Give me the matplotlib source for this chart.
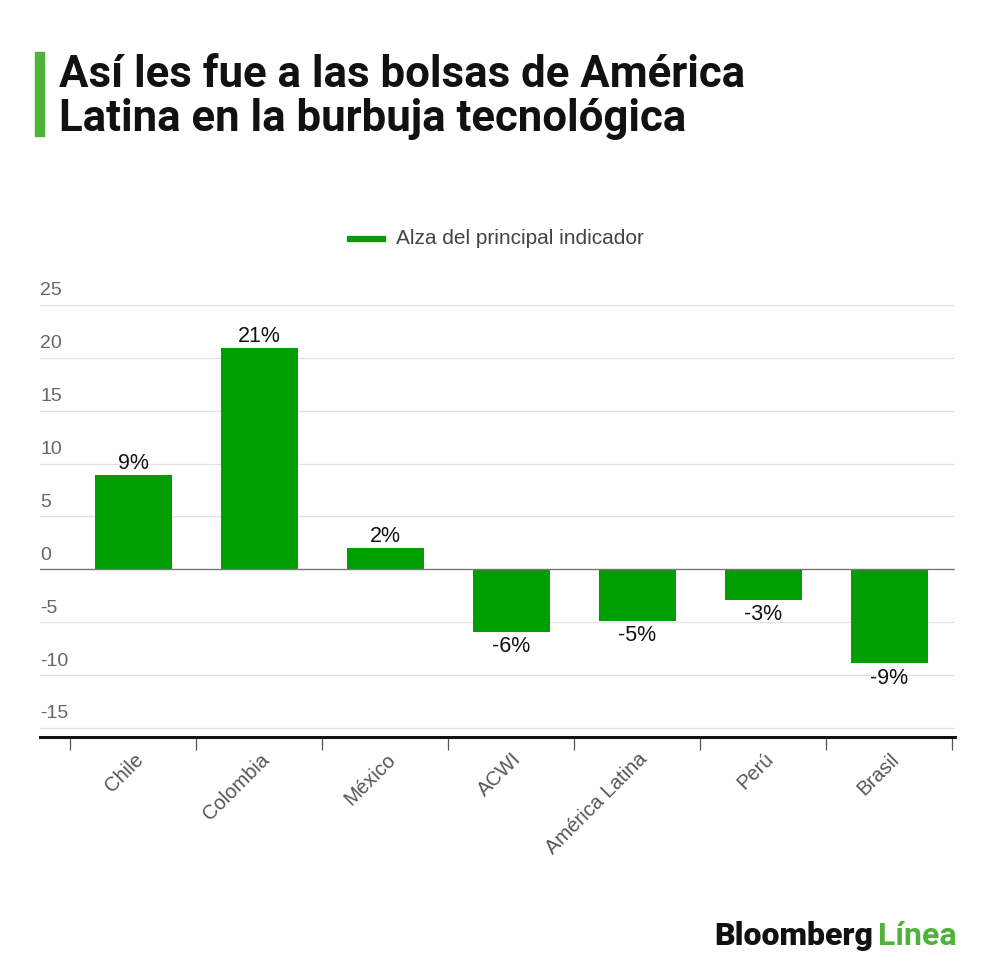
import matplotlib.pyplot as plt
from matplotlib.patches import Rectangle
import matplotlib.transforms as mtransforms

## data
paises = ['Chile', 'Colombia', 'México', 'ACWI', 'América Latina', 'Perú', 'Brasil']
alza = [8.9, 20.9, 2.0, -5.9, -4.9, -2.85, -8.9]
etiquetas = ['9%', '21%', '2%', '-6%', '-5%', '-3%', '-9%']
yticks = [25, 20, 15, 10, 5, 0, -5, -10, -15]

verde = '#009e00'
verde_claro = '#4fb339'

plt.rcParams['font.family'] = ['Liberation Sans', 'DejaVu Sans']

fig = plt.figure(figsize=(10, 9.76), dpi=100)
ax = fig.add_axes([0.04, 0.2449, 0.915, 0.4426])

## bars
x = list(range(len(paises)))
ax.bar(x, alza, width=0.61, color=verde, zorder=3)

for xi, v, lab in zip(x, alza, etiquetas):
    if v >= 0:
        ax.annotate(lab, (xi, v), xytext=(0, 1), textcoords='offset points',
                    ha='center', va='bottom', fontsize=15.5, color='#111111')
    else:
        ax.annotate(lab, (xi, v), xytext=(0, -3), textcoords='offset points',
                    ha='center', va='top', fontsize=15.5, color='#111111')

## axes
ax.set_xlim(-0.74, 6.52)
ax.set_ylim(-15.85, 25)
for s in ['top', 'right', 'left']:
    ax.spines[s].set_visible(False)
ax.spines['bottom'].set_linewidth(2.2)
ax.spines['bottom'].set_color('#111111')

# gridlines + y labels sitting above them
for t in yticks:
    ax.axhline(t, color='#777777' if t == 0 else '#e2e2e2',
               lw=1.0 if t == 0 else 0.9, zorder=1 if t != 0 else 4)
trans = mtransforms.blended_transform_factory(ax.transAxes, ax.transData)
for t in yticks:
    ax.annotate(str(t), (0, t), xycoords=trans, xytext=(0, 4),
                textcoords='offset points', ha='left', va='bottom',
                fontsize=14, color='#666666')
ax.set_yticks([])

# category labels at bar centres, ticks at boundaries
ax.set_xticks(x)
ax.set_xticklabels(paises, rotation=45, ha='right', va='center',
                   rotation_mode='anchor', fontsize=14.5, color='#555555')
ax.tick_params(axis='x', which='major', length=0, pad=14)
shift = mtransforms.ScaledTranslation(7 / 100, 0, fig.dpi_scale_trans)
for lbl in ax.get_xticklabels():
    lbl.set_transform(lbl.get_transform() + shift)
ax.set_xticks([i - 0.5 for i in range(len(paises) + 1)], minor=True)
ax.tick_params(axis='x', which='minor', length=9, width=0.9, color='#555555')

## legend
fig.add_artist(plt.Line2D([0.350, 0.383], [1 - 239 / 976] * 2, color=verde, lw=4.5))
fig.text(0.396, 1 - 239 / 976, 'Alza del principal indicador', fontsize=15,
         color='#444444', va='center', ha='left')

## title
fig.add_artist(Rectangle((0.035, 1 - 136 / 976), 0.009, 84 / 976,
                         color=verde_claro, transform=fig.transFigure))
fig.text(0.059, 1 - 75 / 976, 'Así les fue a las bolsas de América',
         fontsize=31.5, fontweight='bold', family='Roboto', color='#111111', va='center')
fig.text(0.059, 1 - 119 / 976, 'Latina en la burbuja tecnológica',
         fontsize=31.5, fontweight='bold', family='Roboto', color='#111111', va='center')

## logo
fig.text(0.873, 1 - 936 / 976, 'Bloomberg', fontsize=23, fontweight='black',
         family='Roboto', color='#111111', ha='right', va='center')
fig.text(0.878, 1 - 936 / 976, 'Línea', fontsize=23, fontweight='bold',
         family='Roboto', color=verde_claro, ha='left', va='center')

fig.savefig('out.png', dpi=100, facecolor='white')
